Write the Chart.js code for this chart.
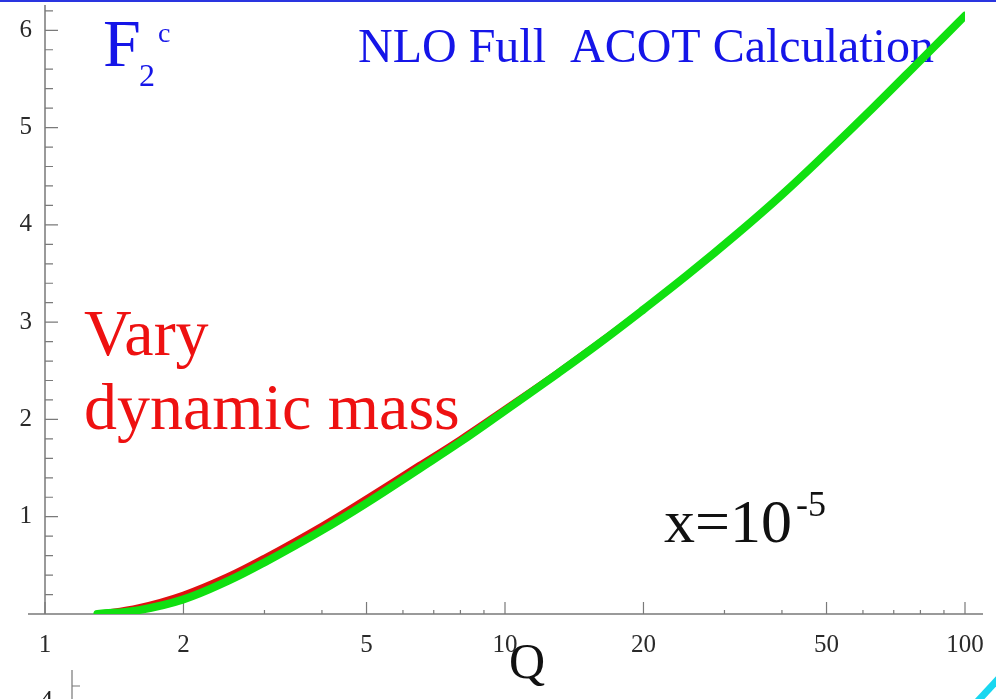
<!DOCTYPE html>
<html>
<head>
<meta charset="utf-8">
<script src="https://cdn.jsdelivr.net/npm/chart.js@4.4.1/dist/chart.umd.min.js"></script>
<style>
  html, body { margin: 0; padding: 0; background: #fff; }
  #wrap { width: 996px; height: 699px; position: relative; }
</style>
</head>
<body>
<div id="wrap"><canvas id="f2cChart"></canvas></div>
<script>
// Q grid and F2c values for the two mass choices
const qValues   = [1.3, 1.6, 2, 2.5, 3, 4, 5, 6.5, 8, 10, 13, 16, 20, 25, 32, 40, 50, 63, 80, 100];
const f2Dynamic = [0, 0.07, 0.20, 0.39, 0.58, 0.91, 1.19, 1.53, 1.80, 2.11, 2.48, 2.79, 3.13, 3.49, 3.91, 4.31, 4.74, 5.20, 5.69, 6.15];
const f2Full    = [0, 0.04, 0.15, 0.34, 0.53, 0.86, 1.14, 1.49, 1.77, 2.09, 2.47, 2.78, 3.13, 3.49, 3.91, 4.31, 4.74, 5.20, 5.69, 6.15];

// axis ticks
const xTickValues = [1, 2, 3, 4, 5, 6, 7, 8, 9, 10, 20, 30, 40, 50, 60, 70, 80, 90, 100];
const xTickLabels = [1, 2, 5, 10, 20, 50, 100];
const yTickValues = Array.from({length: 32}, (_, i) => i / 5);
const yTickLabels = [1, 2, 3, 4, 5, 6];

const serif = '"Liberation Serif", "DejaVu Serif", serif';

function toPoints(ys) {
    return qValues.map((q, i) => ({x: q, y: ys[i]}));
}

function isLabelled(v, list) {
    return list.some(t => Math.abs(t - v) < 1e-6);
}

// axes with inward ticks, plus the text on the plot (the curves go over it)
const framePlugin = {
    id: 'frame',
    beforeDatasetsDraw(chart) {
        const ctx = chart.ctx;
        const xs = chart.scales.x, ys = chart.scales.y;
        const area = chart.chartArea;
        const x0 = xs.getPixelForValue(1);
        const y0 = ys.getPixelForValue(0);
        ctx.save();
        ctx.strokeStyle = '#7a7a7a';
        ctx.lineWidth = 1.5;
        ctx.beginPath();
        ctx.moveTo(area.left - 17, y0);
        ctx.lineTo(area.right + 18, y0);
        ctx.moveTo(x0, area.top);
        ctx.lineTo(x0, y0);
        ctx.stroke();

        ctx.lineWidth = 1.2;
        ctx.beginPath();
        xTickValues.forEach(v => {
            const px = xs.getPixelForValue(v);
            const len = isLabelled(v, xTickLabels) ? 12 : 4;
            ctx.moveTo(px, y0);
            ctx.lineTo(px, y0 - len);
        });
        yTickValues.forEach(v => {
            if (v === 0) return;
            const py = ys.getPixelForValue(v);
            const len = isLabelled(v, yTickLabels) ? 13 : 8;
            ctx.moveTo(x0, py);
            ctx.lineTo(x0 + len, py);
        });
        ctx.stroke();

        ctx.textBaseline = 'alphabetic';
        ctx.textAlign = 'left';

        // F2^c
        ctx.fillStyle = '#1515e8';
        ctx.font = '68px ' + serif;
        ctx.fillText('F', 103, 66);
        ctx.font = '32px ' + serif;
        ctx.fillText('2', 139, 86);
        ctx.font = '28px ' + serif;
        ctx.fillText('c', 158, 42);

        ctx.font = '48px ' + serif;
        ctx.fillText('NLO Full  ACOT Calculation', 358, 62);

        ctx.fillStyle = '#ee1111';
        ctx.font = '66px ' + serif;
        ctx.fillText('Vary', 84, 355);
        ctx.fillText('dynamic mass', 84, 429);

        ctx.fillStyle = '#111';
        ctx.font = '62px ' + serif;
        ctx.fillText('x=10', 664, 542);
        ctx.font = '36px ' + serif;
        ctx.fillText('-5', 796, 516);

        ctx.font = '50px ' + serif;
        ctx.fillText('Q', 509, 678);
        ctx.restore();
    },
    afterDraw(chart) {
        const ctx = chart.ctx;
        const w = chart.width, h = chart.height;
        ctx.save();

        // blue rule along the top edge
        ctx.fillStyle = '#2a35e0';
        ctx.fillRect(0, 0, w, 2);

        // edge of the next panel below
        ctx.textBaseline = 'alphabetic';
        ctx.textAlign = 'left';
        ctx.font = '26px ' + serif;
        ctx.fillStyle = '#222';
        ctx.fillText('4', 40, 708);
        ctx.strokeStyle = '#777';
        ctx.lineWidth = 1.2;
        ctx.beginPath();
        ctx.moveTo(72, 670); ctx.lineTo(72, h);
        ctx.moveTo(72, 686); ctx.lineTo(80, 686);
        ctx.stroke();
        ctx.fillStyle = '#1515e8';
        ctx.font = '68px ' + serif;
        ctx.fillText('F', 141, 745);

        ctx.strokeStyle = '#19d7f0';
        ctx.lineWidth = 7;
        ctx.beginPath();
        ctx.moveTo(976, h + 4);
        ctx.lineTo(1000, h - 22);
        ctx.stroke();
        ctx.restore();
    }
};

const ctx = document.getElementById('f2cChart').getContext('2d');
new Chart(ctx, {
    type: 'line',
    data: {
        datasets: [{
            label: 'full',
            data: toPoints(f2Full),
            borderColor: '#10e010',
            borderWidth: 8,
            pointRadius: 0,
            tension: 0.4,
            borderCapStyle: 'round',
            order: 1
        }, {
            label: 'dynamic mass',
            data: toPoints(f2Dynamic),
            borderColor: '#e01010',
            borderWidth: 6,
            pointRadius: 0,
            tension: 0.4,
            order: 2
        }]
    },
    options: {
        responsive: true,
        maintainAspectRatio: false,
        animation: false,
        layout: {padding: {top: 5, right: 31, left: 0, bottom: 0}},
        plugins: {
            legend: {display: false},
            tooltip: {enabled: false}
        },
        scales: {
            x: {
                type: 'logarithmic',
                min: 1,
                max: 100,
                afterBuildTicks: scale => {
                    scale.ticks = xTickValues.map(v => ({value: v}));
                },
                afterFit: scale => {
                    scale.height = 85;
                    scale.paddingLeft = 0;
                    scale.paddingRight = 0;
                },
                grid: {display: false, drawTicks: false},
                border: {display: false},
                ticks: {
                    autoSkip: false,
                    maxRotation: 0,
                    padding: 16,
                    color: '#2a2a2a',
                    font: {family: serif, size: 25},
                    callback: v => isLabelled(v, xTickLabels) ? String(v) : ''
                }
            },
            y: {
                type: 'linear',
                min: 0,
                max: 6.26,
                afterBuildTicks: scale => {
                    scale.ticks = yTickValues.map(v => ({value: v}));
                },
                afterFit: scale => {
                    scale.width = 45;
                    scale.paddingTop = 0;
                    scale.paddingBottom = 0;
                },
                grid: {display: false, drawTicks: false},
                border: {display: false},
                ticks: {
                    autoSkip: false,
                    padding: 13,
                    color: '#2a2a2a',
                    font: {family: serif, size: 25},
                    callback: v => isLabelled(v, yTickLabels) ? String(Math.round(v)) : ''
                }
            }
        }
    },
    plugins: [framePlugin]
});
</script>
</body>
</html>
